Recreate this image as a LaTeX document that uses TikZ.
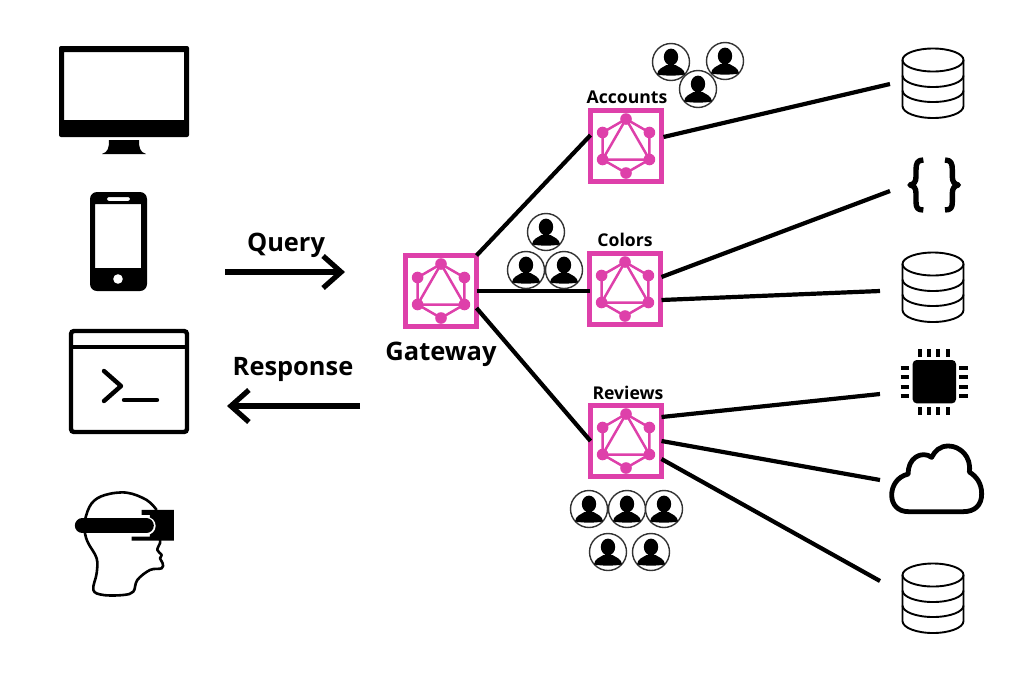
\documentclass[tikz,border=0pt]{standalone}
\usepackage{fontspec}
\setmainfont{Open Sans}
\usetikzlibrary{arrows.meta,calc}
\definecolor{gqlpink}{RGB}{222,64,170}
\tikzset{
  link/.style={line width=4.2pt,black},
  flow/.style={line width=5.2pt,black,-{Straight Barb[length=18pt,width=32pt,line width=5.2pt]}},
  gqlbox/.style={draw=gqlpink,line width=4.8pt,minimum width=71pt,minimum height=71pt,inner sep=0pt,outer sep=0pt,fill=white},
  biglabel/.style={font=\bfseries\fontsize{25.5}{28}\selectfont,inner sep=0pt},
  midlabel/.style={font=\bfseries\fontsize{25.4}{28}\selectfont,inner sep=0pt},
  smalllabel/.style={font=\bfseries\fontsize{17.6}{20}\selectfont,inner sep=0pt},
  zoomed/.style={x=.3333pt,y=-.3333pt},
  gqlmark/.pic={
    \draw[gqlpink,line width=2.5pt,line join=round] (0,-27) -- (23.4,-13.5) -- (23.4,13.5) -- (0,27) -- (-23.4,13.5) -- (-23.4,-13.5) -- cycle;
    \draw[gqlpink,line width=2.5pt,line join=round] (0,-27) -- (23.4,13.5) -- (-23.4,13.5) -- cycle;
    \foreach \px/\py in {0/-27,23.4/-13.5,23.4/13.5,0/27,-23.4/13.5,-23.4/-13.5}{\fill[gqlpink] (\px,\py) circle[radius=5.8pt];}
  },
  userpic/.pic={
    \draw[line width=1.4pt,draw=black!80,fill=white] (0,0) circle[radius=18.5pt];
    \fill (0,-5) ellipse[x radius=7.2pt,y radius=8.4pt];
    \fill (-14,12.5) .. controls (-13.5,6.5) and (-8,5.5) .. (-4.5,3) -- (4.5,3) .. controls (8,5.5) and (13.5,6.5) .. (14,12.5) .. controls (6,14) and (-6,14) .. cycle;
  },
  dbpic/.pic={
    \draw[line width=1.9pt,line join=round] (-30.5,0) -- (-30.5,46) arc[start angle=180,end angle=360,x radius=30.5pt,y radius=12pt] -- (30.5,0);
    \draw[line width=1.9pt] (0,0) ellipse[x radius=30.5pt,y radius=11.5pt];
    \draw[line width=1.9pt] (-30.5,15.5) arc[start angle=180,end angle=360,x radius=30.5pt,y radius=11.5pt];
    \draw[line width=1.9pt] (-30.5,30.5) arc[start angle=180,end angle=360,x radius=30.5pt,y radius=11.5pt];
  }
}
\begin{document}
\begin{tikzpicture}[x=1pt,y=-1pt]
\useasboundingbox (0,0) rectangle (1035,683);
\fill[white] (0,0) rectangle (1035,683);

% connector ends at the icons
\coordinate (db1in) at (890,84);
\coordinate (bracein) at (890,191);
\coordinate (db2in) at (880,291);
\coordinate (chipin) at (880,394);
\coordinate (cloudin) at (880,480);
\coordinate (db3in) at (880,581);
\coordinate (qstart) at (225,272);
\coordinate (qend) at (345,272);
\coordinate (rstart) at (360,406);
\coordinate (rend) at (227,406);

% gateway and services
\node[gqlbox] (gw) at (441,291) {};
\node[gqlbox] (acc) at (626,146) {};
\node[gqlbox] (col) at (625,289) {};
\node[gqlbox] (rev) at (626,441) {};

% connectors
\draw[link] (gw.north east) -- (acc.163);
\draw[link] (gw.east) -- ($(col.west)+(0,2)$);
\draw[link] ($(gw.east)+(0,17)$) -- (rev.west);
\draw[link] ($(acc.east)+(2,-9)$) -- (db1in);
\draw[link] ($(col.east)+(1,-12)$) -- (bracein);
\draw[link] ($(col.east)+(1,11)$) -- (db2in);
\draw[link] ($(rev.east)+(0,-24)$) -- (chipin);
\draw[link] (rev.east) -- (cloudin);
\draw[link] ($(rev.east)+(0,18)$) -- (db3in);
\draw[flow] (qstart) -- (qend);
\draw[flow] (rstart) -- (rend);

% graphql marks
\pic at (gw) {gqlmark};
\pic at (acc) {gqlmark};
\pic at (col) {gqlmark};
\pic at (rev) {gqlmark};

% labels
\node[biglabel] (gwl) at (441,354) {Gateway};
\node[midlabel] (ql) at (286,245) {Query};
\node[midlabel] (rl) at (293,369) {Response};
\node[smalllabel] (al) at (627,97) {Accounts};
\node[smalllabel] (cl) at (625,240) {Colors};
\node[smalllabel] (vl) at (628,393) {Reviews};

% users
\foreach \ux/\uy in {671/62,725/61,698/89,546/232,526/270,564/270,589/509,627/509,664/509,608/552,651/552}{
  \pic at (\ux,\uy) {userpic};
}

% databases
\pic at (933,60) {dbpic};
\pic at (933,264) {dbpic};
\pic at (933,575) {dbpic};

% monitor
\fill[rounded corners=2pt,even odd rule] (59,46) rectangle (189,137) (64,52) [sharp corners] rectangle (184,120);
\fill (109,140) -- (139,140) .. controls (139,148) and (140,152) .. (146,154) -- (102,154) .. controls (108,152) and (109,148) .. cycle;

% phone
\fill[even odd rule,rounded corners=7pt] (90,192) rectangle (147,291)
  [sharp corners] (95,204) rectangle (141,268)
  [rounded corners=2pt] (107,197) rectangle (130,201);
\fill[white] (118,279) circle[radius=4.8pt];

% terminal
\draw[line width=4.4pt,rounded corners=3pt] (71,331) rectangle (187,432);
\draw[line width=4.4pt] (71,347) -- (187,347);
\draw[line width=4.4pt,line cap=round,line join=round] (104,371) -- (121,386) -- (104,401);
\draw[line width=4.4pt,line cap=round] (124,400) -- (157,400);

% head with visor
\begin{scope}[shift={(50,320)},zoomed]
  \draw[line width=2.6pt,line join=round] plot[smooth,tension=.6] coordinates {(320,570) (290,540) (230,518) (165,525) (125,550) (105,600) (105,640) (115,670) (140,715) (140,760) (130,810) (160,825) (220,825) (250,815) (262,780) (300,750) (335,745) (338,730) (330,715) (335,705) (322,690) (330,670) (330,660)};
  \fill (275,570) -- (372,570) -- (372,662) -- (245,662) -- (245,650) -- (300,650) -- (300,585) -- (275,585) -- cycle;
  \draw[white,line width=18pt,line cap=round] (200,617) -- (290,617);
  \draw[line width=15pt,line cap=round] (97,617) -- (289,617);
\end{scope}

% braces
\begin{scope}[shift={(880,40)},zoomed]
  \draw[line width=5.4pt,line cap=butt,line join=round]
    (130,360) .. controls (112,360) and (108,370) .. (108,390) -- (108,410) .. controls (108,425) and (102,433) .. (90,435)
    .. controls (102,437) and (108,445) .. (108,460) -- (108,485) .. controls (108,503) and (112,510) .. (130,510);
  \draw[line width=5.4pt,line cap=butt,line join=round]
    (195,360) .. controls (213,360) and (217,370) .. (217,390) -- (217,410) .. controls (217,425) and (223,433) .. (235,435)
    .. controls (223,437) and (217,445) .. (217,460) -- (217,485) .. controls (217,503) and (213,510) .. (195,510);
\end{scope}

% chip and cloud
\begin{scope}[shift={(880,340)},zoomed]
  \fill[rounded corners=4pt] (98,60) rectangle (228,190);
  \foreach \p in {120,148,175,203}{
    \draw[line width=3.8pt] (\p,27) -- (\p,50);
    \draw[line width=3.8pt] (\p,201) -- (\p,225);
  }
  \foreach \p in {85,112,140,167}{
    \draw[line width=3.8pt] (62,\p) -- (88,\p);
    \draw[line width=3.8pt] (238,\p) -- (264,\p);
  }
  \draw[line width=4.8pt,line join=round]
    (85,515) -- (250,515)
    .. controls (285,515) and (305,495) .. (305,462)
    .. controls (305,430) and (290,410) .. (268,396)
    .. controls (275,350) and (240,318) .. (205,318)
    .. controls (180,318) and (165,332) .. (155,352)
    .. controls (125,330) and (82,355) .. (85,402)
    .. controls (50,410) and (35,440) .. (35,465)
    .. controls (35,495) and (55,515) .. (85,515) -- cycle;
\end{scope}
\end{tikzpicture}
\end{document}
